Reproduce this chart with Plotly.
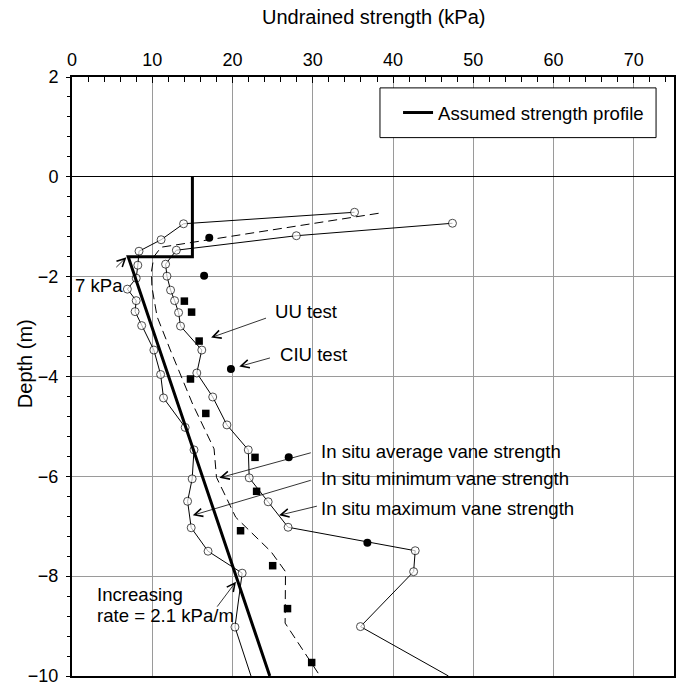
import plotly.graph_objects as go

# Assumed strength profile (kPa vs depth m)
profile_su = [15.0, 15.0, 7.0, 24.64]
profile_depth = [0.0, -1.6, -1.6, -10.0]

# In situ minimum vane strength (last point: line runs on to the base of the plot)
min_su = [35.2, 13.9, 11.1, 8.35, 8.2, 8.0, 6.9, 8.0, 7.86, 8.68, 10.2, 11.04,
          11.4, 14.1, 15.2, 14.97, 14.4, 14.85, 16.95, 21.2, 20.3, 22.3]
min_depth = [-0.71, -0.94, -1.26, -1.49, -1.77, -2.03, -2.25, -2.48, -2.70, -2.98,
             -3.47, -3.96, -4.43, -5.02, -5.47, -6.05, -6.50, -7.03, -7.50, -7.94,
             -9.02, -10.0]

# In situ maximum vane strength
max_su = [47.4, 27.95, 13.0, 11.66, 11.83, 12.28, 12.78, 13.28, 13.52, 16.17,
          15.55, 17.53, 19.3, 21.96, 22.08, 24.44, 26.92, 42.76, 42.56, 35.94, 46.9]
max_depth = [-0.93, -1.18, -1.47, -1.75, -1.99, -2.27, -2.48, -2.72, -2.99, -3.47,
             -3.93, -4.41, -4.97, -5.47, -6.03, -6.51, -7.02, -7.49, -7.91, -9.01,
             -10.0]

# In situ average vane strength
avg_su = [38.2, 11.1, 10.2, 9.9, 9.95, 10.6, 12.2, 15.05, 17.7, 18.0, 20.4,
          24.8, 26.6, 26.55, 30.9]
avg_depth = [-0.73, -1.41, -1.60, -1.90, -2.20, -2.80, -3.45, -4.56, -5.45, -6.02,
             -6.82, -7.51, -7.91, -8.94, -10.0]

# Laboratory tests
uu_su = [14.0, 14.9, 15.84, 14.76, 16.67, 22.8, 23.0, 21.0, 25.0, 26.85, 29.86]
uu_depth = [-2.49, -2.71, -3.29, -4.05, -4.74, -5.62, -6.30, -7.09, -7.79, -8.65, -9.73]
ciu_su = [17.1, 16.46, 19.8, 27.0, 36.8]
ciu_depth = [-1.22, -1.98, -3.85, -5.62, -7.33]

x_ticks = [0, 10, 20, 30, 40, 50, 60, 70]
y_ticks = [2, 0, -2, -4, -6, -8, -10]

FONT = "Liberation Sans, Arial, Helvetica, sans-serif"
FS = 18.6
TITLE_FS = 20


def open_sizes(n, size=8):
    # every measured point gets a marker except the trailing run-out point
    return [size] * (n - 1) + [0]


fig = go.Figure()

fig.add_trace(go.Scatter(
    x=avg_su, y=avg_depth, mode="lines", showlegend=False,
    line=dict(color="black", width=1, dash="9px,5px")))

fig.add_trace(go.Scatter(
    x=min_su, y=min_depth, mode="lines+markers", showlegend=False,
    line=dict(color="black", width=1),
    marker=dict(symbol="circle", size=open_sizes(len(min_su)), color="white",
                line=dict(color="black", width=1))))

fig.add_trace(go.Scatter(
    x=max_su, y=max_depth, mode="lines+markers", showlegend=False,
    line=dict(color="black", width=1),
    marker=dict(symbol="circle", size=open_sizes(len(max_su)), color="white",
                line=dict(color="black", width=1))))

fig.add_trace(go.Scatter(
    x=profile_su, y=profile_depth, mode="lines", name="Assumed strength profile",
    line=dict(color="black", width=3)))

fig.add_trace(go.Scatter(
    x=uu_su, y=uu_depth, mode="markers", showlegend=False,
    marker=dict(symbol="square", size=7.5, color="black")))

fig.add_trace(go.Scatter(
    x=ciu_su, y=ciu_depth, mode="markers", showlegend=False,
    marker=dict(symbol="circle", size=8, color="black")))

arrow_style = dict(showarrow=True, arrowhead=5, arrowsize=2.0, arrowwidth=0.8,
                   arrowcolor="black", axref="x", ayref="y", xref="x", yref="y",
                   text="", standoff=0, startstandoff=0)

# (head x, head y, tail x, tail y)
arrows = [
    (6.78, -1.61, 5.33, -1.84),
    (17.33, -3.22, 24.36, -2.82),
    (20.84, -3.80, 24.85, -3.62),
    (18.36, -6.03, 29.94, -5.52),
    (15.05, -6.78, 29.94, -6.07),
    (25.8, -6.78, 30.7, -6.59),
    (20.43, -8.11, 17.95, -8.64),
]
annotations = []
for hx, hy, tx, ty in arrows:
    annotations.append(dict(x=hx, y=hy, ax=tx, ay=ty, **arrow_style))

labels = [
    ("7 kPa", 3.35, -2.18, "center"),
    ("UU test", 29.2, -2.70, "center"),
    ("CIU test", 30.1, -3.55, "center"),
    ("In situ average vane strength", 30.77, -5.50, "left"),
    ("In situ minimum vane strength", 30.77, -6.05, "left"),
    ("In situ maximum vane strength", 30.77, -6.64, "left"),
    ("Increasing", 2.85, -8.37, "left"),
    ("rate = 2.1 kPa/m", 2.85, -8.79, "left"),
]
for txt, x, y, anchor in labels:
    annotations.append(dict(text=txt, x=x, y=y, xref="x", yref="y",
                            xanchor=anchor, yanchor="middle", showarrow=False,
                            font=dict(family=FONT, size=FS, color="black")))

annotations.append(dict(text="Undrained strength (kPa)", x=0.5, y=1.0995,
                        xref="paper", yref="paper", xanchor="center",
                        yanchor="middle", showarrow=False,
                        font=dict(family=FONT, size=TITLE_FS, color="black")))
annotations.append(dict(text="Depth (m)", x=-0.078, y=0.5207, xref="paper",
                        yref="paper", xanchor="center", yanchor="middle",
                        textangle=-90, showarrow=False,
                        font=dict(family=FONT, size=TITLE_FS, color="black")))

shapes = [dict(type="rect", xref="paper", yref="paper", x0=0.5116, x1=0.9702,
               y0=0.8988, y1=0.9818, line=dict(color="black", width=1),
               fillcolor="white", layer="above")]

fig.update_layout(
    width=678, height=688,
    margin=dict(l=72, r=2, t=77, b=8),
    paper_bgcolor="white", plot_bgcolor="white",
    font=dict(family=FONT, size=FS, color="black"),
    annotations=annotations,
    shapes=shapes,
    legend=dict(x=0.5416, y=0.94, xanchor="left", yanchor="middle",
                bgcolor="rgba(0,0,0,0)", borderwidth=0,
                font=dict(family=FONT, size=FS, color="black")),
    xaxis=dict(
        range=[0, 75], side="top", tickvals=x_ticks,
        ticks="inside", ticklen=6, tickcolor="black", tickwidth=1,
        minor=dict(dtick=2, ticks="inside", ticklen=5, tickcolor="black",
                   showgrid=False),
        showgrid=True, gridcolor="#9a9a9a", gridwidth=1,
        showline=True, linecolor="black", linewidth=2, mirror=True,
        zeroline=False, ticklabelstandoff=2,
        tickfont=dict(family=FONT, size=18, color="black")),
    yaxis=dict(
        range=[-10, 2], tickvals=y_ticks,
        ticks="outside", ticklen=4, tickcolor="black", tickwidth=1,
        minor=dict(dtick=0.4, ticks="outside", ticklen=3, tickcolor="black",
                   showgrid=False),
        showgrid=True, gridcolor="#9a9a9a", gridwidth=1,
        zeroline=True, zerolinecolor="black", zerolinewidth=1,
        showline=True, linecolor="black", linewidth=2, mirror=True,
        ticklabelstandoff=4, ticklabeloverflow="allow",
        tickfont=dict(family=FONT, size=18, color="black")),
)

fig.write_html("out.html")
